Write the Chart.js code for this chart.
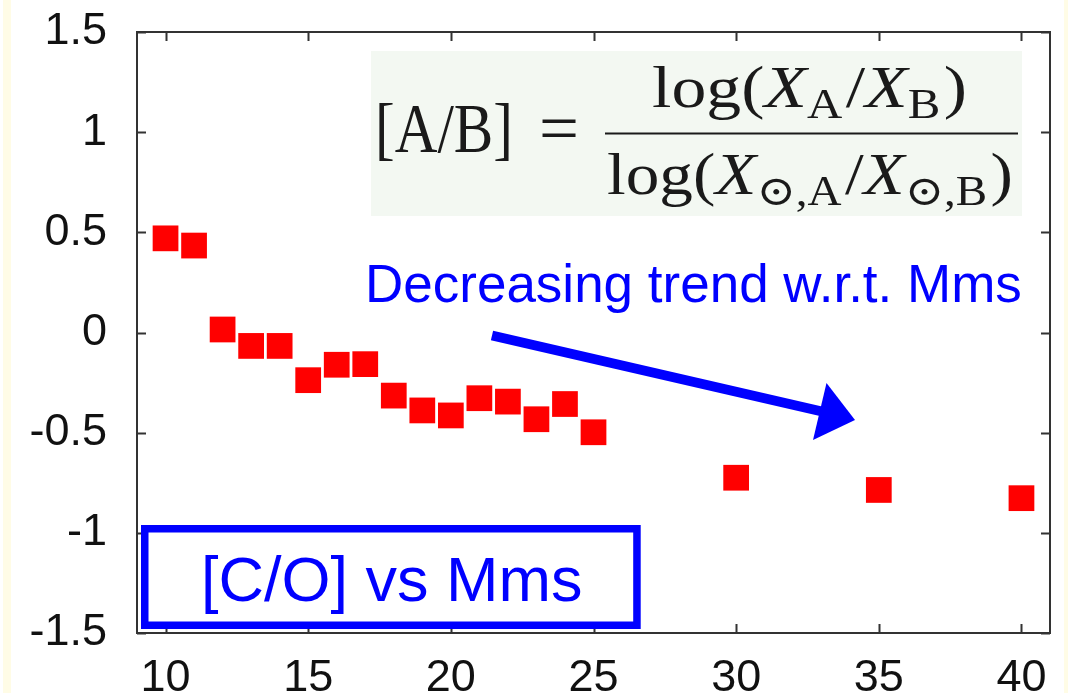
<!DOCTYPE html>
<html>
<head>
<meta charset="utf-8">
<script src="https://cdn.jsdelivr.net/npm/chart.js@4.4.1/dist/chart.umd.min.js"></script>
<style>
  html, body { margin: 0; padding: 0; background: #ffffff; }
  #wrap { position: relative; width: 1068px; height: 693px; overflow: hidden; }
  canvas { display: block; }
</style>
</head>
<body>
<div id="wrap"><canvas id="chart" width="1068" height="693"></canvas></div>
<script>
// Main-sequence mass (Msun) and the [C/O] ratio of each model
const masses = [10, 11, 12, 13, 14, 15, 16, 17, 18, 19, 20, 21, 22, 23, 24, 25, 30, 35, 40];
const coRatio = [0.47, 0.434, 0.015, -0.067, -0.067, -0.238, -0.161, -0.158, -0.315, -0.389,
                 -0.414, -0.328, -0.345, -0.433, -0.357, -0.498, -0.725, -0.786, -0.827];

// Axis ticks
const xTicks = [10, 15, 20, 25, 30, 35, 40];
const yTicks = [-1.5, -1, -0.5, 0, 0.5, 1, 1.5];
const yTickLabels = ['-1.5', '-1', '-0.5', '0', '0.5', '1', '1.5'];

const SANS = "'Liberation Sans', Arial, sans-serif";
const SERIF = "'Liberation Serif', 'DejaVu Serif', serif";
const BLUE = '#0000ff';

// Lays out a row of formula tokens, then squeezes/stretches it to a target width.
function drawRun(ctx, tokens, x, baseline, targetW, F, sy, subDrop) {
  let w = 0;
  const parts = tokens.map(tk => {
    const size = tk.sub ? F * 0.7 : F;
    const font = (tk.it ? 'italic ' : '') + size + 'px ' + SERIF;
    ctx.font = font;
    const m = ctx.measureText(tk.t).width;
    const p = { t: tk.t, font, x: w + (tk.pre || 0) * F, dy: tk.sub ? subDrop / sy : 0 };
    w += m + (tk.pre || 0) * F + (tk.post || 0) * F;
    return p;
  });
  const sx = targetW / w;
  ctx.save();
  ctx.translate(x, baseline);
  ctx.scale(sx, sy);
  ctx.textAlign = 'left';
  ctx.textBaseline = 'alphabetic';
  parts.forEach(p => { ctx.font = p.font; ctx.fillText(p.t, p.x, p.dy); });
  ctx.restore();
}

const decor = {
  id: 'decor',
  beforeDraw(chart) {
    const ctx = chart.ctx;
    ctx.save();
    ctx.fillStyle = '#ffffff';
    ctx.fillRect(0, 0, chart.width, chart.height);
    ctx.fillStyle = '#fffce6';
    ctx.fillRect(3, 0, 8, chart.height);
    ctx.fillRect(1064, 0, 4, chart.height);
    ctx.restore();
  },
  beforeDatasetsDraw(chart) {
    const { ctx, chartArea: a, scales } = chart;
    ctx.save();
    // formula panel
    ctx.fillStyle = '#f3f8f2';
    ctx.fillRect(371, 51, 651, 165);

    // frame
    ctx.strokeStyle = '#333333';
    ctx.lineWidth = 2;
    ctx.strokeRect(a.left, a.top, a.right - a.left, a.bottom - a.top);
    // inward tick marks on all four sides
    const tl = 9;
    ctx.beginPath();
    xTicks.forEach(v => {
      const px = Math.round(scales.x.getPixelForValue(v)) + 0.5;
      ctx.moveTo(px, a.bottom); ctx.lineTo(px, a.bottom - tl);
      ctx.moveTo(px, a.top); ctx.lineTo(px, a.top + tl);
    });
    yTicks.forEach(v => {
      const py = Math.round(scales.y.getPixelForValue(v)) + 0.5;
      ctx.moveTo(a.left, py); ctx.lineTo(a.left + tl, py);
      ctx.moveTo(a.right, py); ctx.lineTo(a.right - tl, py);
    });
    ctx.stroke();
    ctx.restore();
  },
  afterDatasetsDraw(chart) {
    const ctx = chart.ctx;
    ctx.save();

    // formula: [A/B] = log(X_A/X_B) / log(X_sun,A / X_sun,B)
    ctx.fillStyle = '#1a1a1a';
    drawRun(ctx, [{ t: '[' }, { t: 'A' }, { t: '/' }, { t: 'B' }, { t: ']' }],
            375, 152, 138, 60, 70.5 / 60, 0);
    drawRun(ctx, [{ t: '=' }], 539, 152, 40, 60, 70.5 / 60, 0);
    ctx.fillRect(605, 132.5, 413, 2);
    drawRun(ctx, [
      { t: 'log' }, { t: '(' }, { t: 'X', it: true }, { t: 'A', sub: true },
      { t: '/', pre: 0.05 }, { t: 'X', it: true }, { t: 'B', sub: true }, { t: ')', pre: 0.05 }
    ], 652, 107, 315, 52, 60 / 52, 11);
    drawRun(ctx, [
      { t: 'log' }, { t: '(' }, { t: 'X', it: true }, { t: '\u2299,A', sub: true },
      { t: '/', pre: 0.05 }, { t: 'X', it: true }, { t: '\u2299,B', sub: true }, { t: ')', pre: 0.05 }
    ], 607, 193.5, 406, 52, 60 / 52, 11);

    // trend note and arrow
    ctx.fillStyle = BLUE;
    ctx.font = '53px ' + SANS;
    ctx.textAlign = 'left';
    ctx.textBaseline = 'alphabetic';
    ctx.fillText('Decreasing trend w.r.t. Mms', 365, 302);

    ctx.strokeStyle = BLUE;
    ctx.lineWidth = 10;
    ctx.lineCap = 'butt';
    ctx.beginPath();
    ctx.moveTo(492, 335.5);
    ctx.lineTo(822, 411.5);
    ctx.stroke();
    ctx.beginPath();
    ctx.moveTo(855, 420);
    ctx.lineTo(826.5, 383);
    ctx.lineTo(813, 440);
    ctx.closePath();
    ctx.fill();

    // caption box
    ctx.strokeStyle = BLUE;
    ctx.lineWidth = 7.5;
    ctx.strokeRect(144.75, 528.75, 492.2, 96.5);
    ctx.font = '63px ' + SANS;
    ctx.fillText('[C/O] vs Mms', 201, 601);

    ctx.restore();
  }
};

new Chart(document.getElementById('chart'), {
  type: 'scatter',
  data: {
    datasets: [{
      label: '[C/O]',
      data: masses.map((m, i) => ({ x: m, y: coRatio[i] })),
      pointStyle: 'rect',
      pointRadius: 18.2,
      pointHoverRadius: 18.2,
      backgroundColor: '#ff0000',
      borderWidth: 0
    }]
  },
  options: {
    responsive: false,
    animation: false,
    devicePixelRatio: 1,
    layout: { autoPadding: false, padding: { top: 32, right: 18, left: 0, bottom: 0 } },
    plugins: { legend: { display: false }, tooltip: { enabled: false }, title: { display: false } },
    scales: {
      x: {
        type: 'linear',
        min: 9, max: 41,
        afterBuildTicks: s => { s.ticks = xTicks.map(v => ({ value: v })); },
        afterFit: s => { s.height = 60; s.paddingLeft = 0; s.paddingRight = 0; },
        grid: { display: false, drawTicks: false },
        border: { display: false },
        ticks: {
          color: '#111111',
          font: { family: SANS, size: 45 },
          padding: 19,
          maxRotation: 0,
          autoSkip: false,
          callback: v => String(v)
        }
      },
      y: {
        type: 'linear',
        min: -1.5, max: 1.5,
        afterBuildTicks: s => { s.ticks = yTicks.map(v => ({ value: v })); },
        afterFit: s => { s.width = 137; s.paddingTop = 0; s.paddingBottom = 0; },
        grid: { display: false, drawTicks: false },
        border: { display: false },
        ticks: {
          color: '#111111',
          font: { family: SANS, size: 45 },
          padding: 30,
          autoSkip: false,
          callback: v => yTickLabels[yTicks.indexOf(v)]
        }
      }
    }
  },
  plugins: [decor]
});
</script>
</body>
</html>
